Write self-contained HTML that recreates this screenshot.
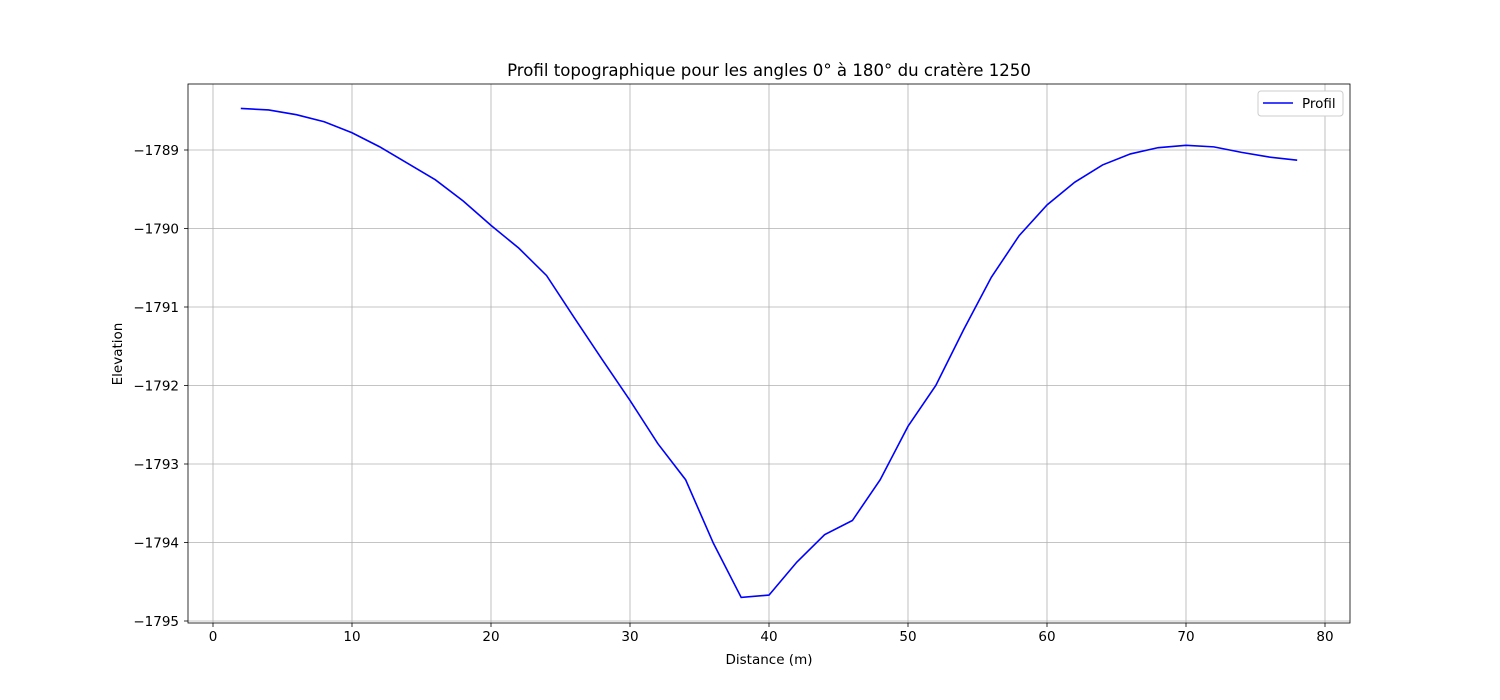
<!DOCTYPE html>
<html><head><meta charset="utf-8"><style>
body{margin:0;background:#fff;}
svg{display:block;font-family:"DejaVu Sans","Liberation Sans",sans-serif;}
</style></head><body>
<svg id="chart" width="1500" height="700"></svg>
<script>
const distances=[2,4,6,8,10,12,14,16,18,20,22,24,26,28,30,32,34,36,38,40,42,44,46,48,50,52,54,56,58,60,62,64,66,68,70,72,74,76,78];
const elevations=[-1788.47,-1788.49,-1788.55,-1788.64,-1788.78,-1788.96,-1789.17,-1789.38,-1789.65,-1789.96,-1790.25,-1790.60,-1791.14,-1791.67,-1792.19,-1792.74,-1793.20,-1794.01,-1794.70,-1794.67,-1794.25,-1793.90,-1793.72,-1793.20,-1792.52,-1792.00,-1791.29,-1790.62,-1790.09,-1789.70,-1789.41,-1789.19,-1789.05,-1788.97,-1788.94,-1788.96,-1789.03,-1789.09,-1789.13];
const xTicks=[0,10,20,30,40,50,60,70,80];
const yTicks=[-1789,-1790,-1791,-1792,-1793,-1794,-1795];
const NS="http://www.w3.org/2000/svg";
const svg=document.getElementById('chart');
const L=188,R=1350,T=84,B=623;
function xs(v){return 213+(v-0)*(1325-213)/80;}
function ys(v){return 150+(-1789-v)*(621-150)/6;}
function el(tag,attrs,parent){const e=document.createElementNS(NS,tag);for(const k in attrs)e.setAttribute(k,attrs[k]);(parent||svg).appendChild(e);return e;}
xTicks.forEach(t=>{
  const x=xs(t);
  const g=el('line',{x1:x,x2:x,y1:T,y2:B,stroke:'#b0b0b0','stroke-width':0.8});
  
  
  el('line',{x1:x,x2:x,y1:B,y2:B+4,stroke:'#000','stroke-width':0.8});
  const tx=el('text',{x:x,y:B+18,'text-anchor':'middle','font-size':13.5});
  tx.textContent=t;
  
  
});
yTicks.forEach(t=>{
  const y=ys(t);
  const g=el('line',{x1:L,x2:R,y1:y,y2:y,stroke:'#b0b0b0','stroke-width':0.8});
  
  
  el('line',{x1:L-4,x2:L,y1:y,y2:y,stroke:'#000','stroke-width':0.8});
  const tx=el('text',{x:L-9,y:y+5,'text-anchor':'end','font-size':13.5});
  tx.textContent=String(t).replace('-','\u2212');
  
  
});
const pts=distances.map((d,i)=>xs(d)+','+ys(elevations[i])).join(' ');
const pl=el('polyline',{points:pts,fill:'none',stroke:'#0000ff','stroke-width':1.6});


const fr=el('rect',{x:L,y:T,width:R-L,height:B-T,fill:'none',stroke:'#000','stroke-width':0.8});


const ti=el('text',{x:769,y:76,'text-anchor':'middle','font-size':16.6});
ti.textContent='Profil topographique pour les angles 0° à 180° du cratère 1250';


const xl=el('text',{x:769,y:664,'text-anchor':'middle','font-size':13.5});
xl.textContent='Distance (m)';


const yl=el('text',{x:0,y:0,'text-anchor':'middle','font-size':13.5,transform:'translate(122,354) rotate(-90)'});
yl.textContent='Elevation';


const lg=el('g',{});


el('rect',{x:1258,y:91,width:85,height:25,rx:3,fill:'#fff',stroke:'#ccc','stroke-width':1},lg);
el('line',{x1:1263,x2:1293,y1:103,y2:103,stroke:'#0000ff','stroke-width':1.6},lg);
const lt=el('text',{x:1302,y:108,'font-size':13.5},lg);
lt.textContent='Profil';


</script>
</body></html>
